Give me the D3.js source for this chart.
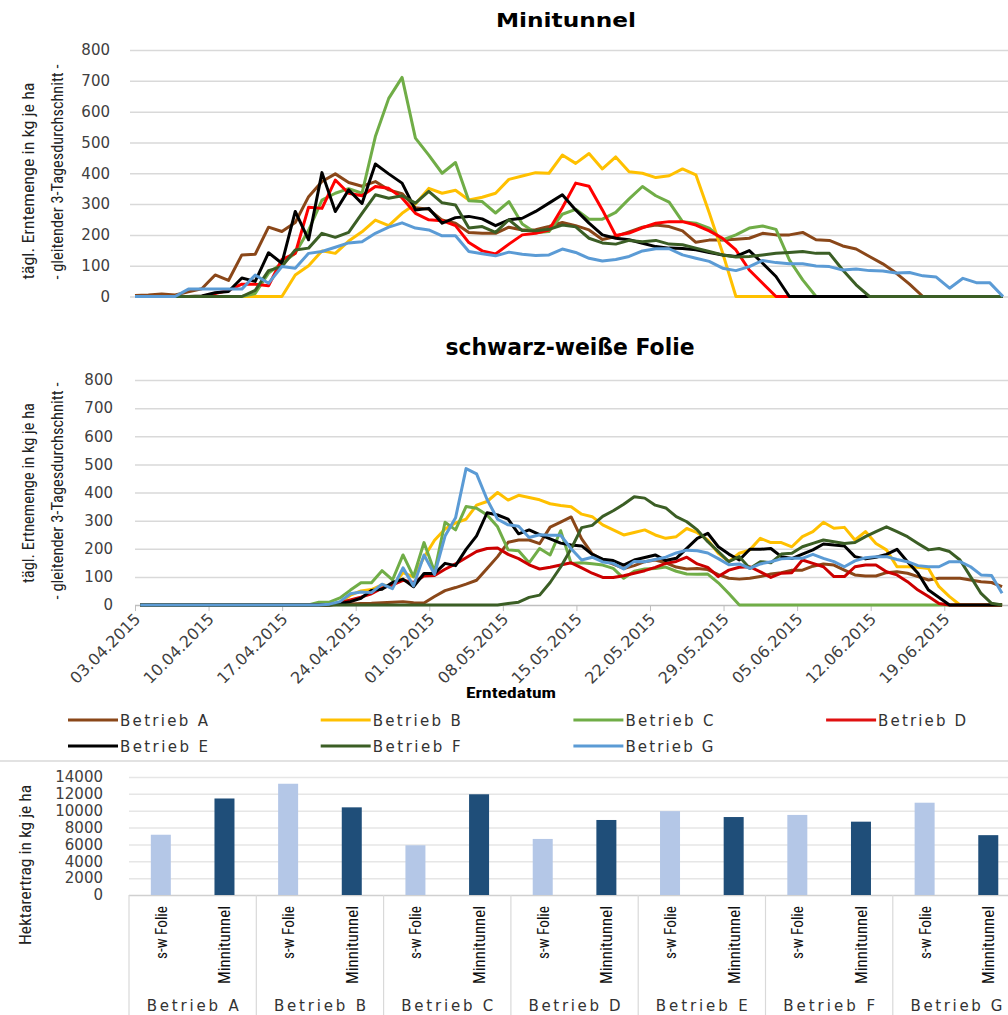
<!DOCTYPE html>
<html><head><meta charset="utf-8">
<script src="https://cdn.jsdelivr.net/npm/d3@7"></script>
<style>body{margin:0;background:#fff}svg{display:block}</style>
</head><body>
<svg id="c" width="1008" height="1015"></svg>
<script>
// ---------------- DATA ----------------
const betriebe = ["Betrieb A","Betrieb B","Betrieb C","Betrieb D","Betrieb E","Betrieb F","Betrieb G"];
const lineColors = ["#8A4719","#FFC000","#70AD47","#FF0000","#000000","#3B5E25","#5B9BD5"];
const lineColorsFolie = ["#8A4719","#FFC000","#70AD47","#CC0000","#000000","#3B5E25","#5B9BD5"];

// Minitunnel (66 harvest points)
const tunnelA = [3,5,8,5,15,25,70,52,135,137,225,211,240,324,373,398,370,358,373,346,334,288,283,248,238,208,205,205,225,216,217,227,240,230,216,185,195,210,225,232,227,213,176,183,183,186,189,205,200,200,208,184,182,164,154,130,106,76,40,0,0,0,0,0,0,0];
const tunnelB = [0,0,0,0,0,0,0,0,0,0,0,0,70,100,148,140,180,210,248,230,270,300,351,335,345,313,322,335,380,391,402,400,459,432,464,414,453,405,400,386,392,414,395,272,142,0,0,0,0,0,0,0,0,0,0,0,0,0,0,0,0,0,0,0,0,0];
const tunnelC = [0,0,0,0,0,0,0,0,0,10,76,108,140,215,313,335,350,335,519,643,711,514,459,400,435,311,308,271,308,235,207,211,267,283,251,251,273,317,357,327,306,243,238,222,184,200,222,229,218,119,54,0,0,0,0,0,0,0,0,0,0,0,0,0,0,0];
const tunnelD = [0,0,0,0,0,0,10,20,40,40,35,120,140,290,286,378,335,327,357,351,320,270,249,246,230,175,148,138,170,200,205,216,288,368,358,281,198,206,223,238,243,243,232,213,189,151,86,43,0,0,0,0,0,0,0,0,0,0,0,0,0,0,0,0,0,0];
const tunnelE = [0,0,0,0,0,2,12,16,60,49,142,108,276,184,402,276,346,302,430,398,368,281,286,238,256,260,252,230,249,254,276,303,330,281,238,200,189,184,173,162,157,156,152,143,135,130,149,108,65,0,0,0,0,0,0,0,0,0,0,0,0,0,0,0,0,0];
const tunnelF = [0,0,0,0,0,0,0,0,0,20,84,97,151,157,205,192,208,270,330,319,327,303,341,304,297,222,227,208,249,214,213,218,232,226,189,174,170,182,178,182,170,168,157,146,135,128,130,135,140,143,146,140,140,86,38,0,0,0,0,0,0,0,0,0,0,0];
const tunnelG = [0,0,0,0,24,24,24,24,24,70,43,97,92,140,146,160,174,178,205,225,239,222,216,197,197,146,139,132,144,137,133,135,154,143,124,115,120,130,148,155,155,135,124,114,92,84,97,117,110,106,106,99,97,86,89,84,83,76,78,67,63,27,59,45,45,0];

// schwarz-weiße Folie (daily, 03.04.2015 - 24.06.2015)
const folieA = [0,0,0,0,0,0,0,0,0,0,0,0,0,0,0,0,0,0,0,3,4,5,6,8,10,12,8,7,30,51,62,74,88,130,172,223,231,231,218,277,295,313,235,182,160,145,130,140,154,160,150,135,128,130,126,108,95,92,95,101,110,115,124,124,138,146,142,124,107,103,103,115,118,113,101,89,95,95,95,89,83,80,65];
const folieB = [0,0,0,0,0,0,0,0,0,0,0,0,0,0,0,0,0,0,2,10,35,50,55,72,65,115,100,170,230,270,292,305,355,368,400,373,390,382,374,360,354,349,323,314,285,267,249,258,267,249,237,243,272,257,231,184,154,184,196,237,222,222,207,243,261,294,273,276,231,261,219,196,136,136,134,130,65,30,0,0,0,0,0];
const folieC = [0,0,0,0,0,0,0,0,0,0,0,0,0,0,0,0,0,10,10,25,53,79,79,122,89,178,101,222,118,294,267,350,344,320,278,196,193,150,201,178,264,148,150,147,142,130,95,120,128,130,135,120,110,109,110,79,41,0,0,0,0,0,0,0,0,0,0,0,0,0,0,0,0,0,0,0,0,0,0,0,0,0,0];
const folieD = [0,0,0,0,0,0,0,0,0,0,0,0,0,0,0,0,0,0,2,8,18,28,40,60,72,88,80,103,105,127,146,168,190,201,203,180,165,143,128,134,142,150,132,113,98,98,104,113,122,134,148,155,170,146,134,101,124,134,136,118,98,113,115,160,148,136,101,101,136,142,142,118,107,83,53,30,5,0,0,0,0,0,0];
const folieE = [0,0,0,0,0,0,0,0,0,0,0,0,0,0,0,0,0,0,0,5,12,24,52,56,80,92,65,112,112,148,140,198,246,328,320,305,253,267,250,235,220,213,210,180,163,158,142,160,169,178,158,166,201,237,255,207,181,160,198,198,201,172,165,181,196,217,213,210,172,164,170,180,198,154,113,53,27,0,0,0,0,0,0];
const folieF = [0,0,0,0,0,0,0,0,0,0,0,0,0,0,0,0,0,0,0,0,0,0,0,0,0,0,0,0,0,0,0,0,0,0,0,5,10,27,35,80,135,200,275,283,315,335,358,385,380,355,345,314,296,267,225,190,154,172,130,154,150,181,184,207,219,231,225,219,222,243,261,278,261,243,219,196,201,190,160,101,41,6,0];
const folieG = [0,0,0,0,0,0,0,0,0,0,0,0,0,0,0,0,0,0,3,12,40,46,44,74,58,132,68,178,109,245,310,485,466,375,305,285,280,240,250,248,248,200,160,170,153,148,128,155,154,162,170,185,195,193,185,165,143,146,130,146,154,164,166,166,180,166,154,136,157,168,172,172,162,154,140,136,136,154,154,136,107,105,42];

const dateLabels = ["03.04.2015","10.04.2015","17.04.2015","24.04.2015","01.05.2015","08.05.2015","15.05.2015","22.05.2015","29.05.2015","05.06.2015","12.06.2015","19.06.2015"];
const lineTicks = [0,100,200,300,400,500,600,700,800];

// Hektarertrag
const barCats = ["s-w Folie","Minnitunnel"];
const swFolie = [7150,13200,5900,6650,9950,9500,10950];
const minitunnel = [11450,10400,11950,8900,9250,8700,7100];
const barTicks = [0,2000,4000,6000,8000,10000,12000,14000];

// ---------------- DRAW ----------------
const FONT = "'DejaVu Sans', Verdana, sans-serif";
const NARROW = "'Liberation Sans Narrow','Roboto Condensed',Roboto,'Open Sans',sans-serif";
const svg = d3.select("#c");
svg.append("rect").attr("width",1008).attr("height",1015).attr("fill","#fff");

function styleAxis(g, labelColor, size){
  g.select(".domain").remove();
  g.selectAll(".tick line").attr("stroke","#d9d9d9").attr("stroke-width",1.5);
  g.selectAll(".tick text").attr("fill",labelColor).attr("font-family",FONT).attr("font-size",size);
}
function yTitle(txt, bx, cy, len, size){
  svg.append("text").attr("transform",`translate(${bx},${cy}) rotate(-90)`)
    .attr("text-anchor","middle").attr("font-family",NARROW).attr("font-size",size)
    .attr("fill","#222").attr("textLength",len).attr("lengthAdjust","spacingAndGlyphs").text(txt);
}

// ---- Top chart: Minitunnel ----
const xTop = d3.scaleLinear().domain([0,65]).range([135,1003]);
const yTop = d3.scaleLinear().domain([0,800]).range([296.5,50]);
svg.append("text").attr("x",566).attr("y",27).attr("text-anchor","middle")
  .attr("font-family",FONT).attr("font-weight","bold").attr("font-size",19)
  .attr("textLength",140).attr("lengthAdjust","spacingAndGlyphs").text("Minitunnel");
const gTopAxis = svg.append("g").attr("transform","translate(130,0)")
  .call(d3.axisLeft(yTop).tickValues(lineTicks).tickSize(-(1008-130)).tickPadding(20));
styleAxis(gTopAxis,"#404040",15);
yTitle("tägl. Erntemenge in kg je ha",34,181,197,17);
yTitle("- gleitender 3-Tagesdurchschnitt -",63,172,215,17);
const topSeries = [tunnelA,tunnelB,tunnelC,tunnelD,tunnelE,tunnelF,tunnelG];
const lineTop = d3.line().x((d,i)=>xTop(i)).y(d=>yTop(d));
svg.append("g").selectAll("path").data(topSeries).join("path")
  .attr("d",lineTop).attr("fill","none").attr("stroke",(d,i)=>lineColors[i])
  .attr("stroke-width",3).attr("stroke-linejoin","round");

// ---- Middle chart: schwarz-weiße Folie ----
const dayW = 10.51;
const xMid = d3.scaleLinear().domain([0,83]).range([135,135+83*dayW]);
const yMid = d3.scaleLinear().domain([0,800]).range([605,380]);
svg.append("text").attr("x",570).attr("y",355).attr("text-anchor","middle")
  .attr("font-family",FONT).attr("font-weight","bold").attr("font-size",23)
  .attr("textLength",249).attr("lengthAdjust","spacingAndGlyphs").text("schwarz-weiße Folie");
const gMidAxis = svg.append("g").attr("transform","translate(135,0)")
  .call(d3.axisLeft(yMid).tickValues(lineTicks).tickSize(-(1008-135)).tickPadding(22));
styleAxis(gMidAxis,"#404040",15);
gMidAxis.selectAll(".tick line").filter(d=>d===0).attr("stroke","#bfbfbf");
yTitle("tägl. Ertnemenge in kg je ha",34,493,180,17);
yTitle("- gleitender 3-Tagesdurchschnitt -",63,491,217,17);
const gX = svg.append("g").attr("transform","translate(0,605)")
  .call(d3.axisBottom(xMid).tickValues(d3.range(0,78,7)).tickSize(6).tickFormat((d,i)=>dateLabels[i]));
gX.select(".domain").remove();
gX.selectAll(".tick line").attr("stroke","#bfbfbf");
gX.selectAll(".tick text").attr("font-family",FONT).attr("font-size",16).attr("fill","#404040")
  .attr("text-anchor","end").attr("x",0).attr("y",0).attr("dy",0)
  .attr("transform","translate(6,15) rotate(-45)");
const folieSeries = [folieA,folieB,folieC,folieD,folieE,folieF,folieG];
const lineMid = d3.line().x((d,i)=>xMid(i+0.5)).y(d=>yMid(d));
svg.append("g").selectAll("path").data(folieSeries).join("path")
  .attr("d",lineMid).attr("fill","none").attr("stroke",(d,i)=>lineColorsFolie[i])
  .attr("stroke-width",3).attr("stroke-linejoin","round");
svg.append("text").attr("x",511).attr("y",698).attr("text-anchor","middle")
  .attr("font-family",NARROW).attr("font-weight","bold").attr("font-size",15)
  .attr("textLength",90).attr("lengthAdjust","spacingAndGlyphs").text("Erntedatum");

// ---- Legend ----
const leg = svg.append("g").selectAll("g").data(betriebe).join("g")
  .attr("transform",(d,i)=>`translate(${68+(i%4)*252.7},${720+Math.floor(i/4)*26})`);
leg.append("line").attr("x1",0).attr("x2",50).attr("y1",0).attr("y2",0)
  .attr("stroke",(d,i)=>i===3?"#E01010":lineColors[i]).attr("stroke-width",3);
leg.append("text").attr("x",52).attr("y",6).attr("font-family",FONT).attr("font-size",15)
  .attr("fill","#333").attr("textLength",88).attr("lengthAdjust","spacing").text(d=>d);

// ---- Bar chart ----
svg.append("line").attr("x1",0).attr("x2",1008).attr("y1",761).attr("y2",761)
  .attr("stroke","#d9d9d9").attr("stroke-width",1.5);
const groupW = 127.3;
const xG = d3.scaleBand().domain(betriebe).range([129,129+7*groupW]);
const xS = d3.scaleBand().domain(barCats).range([0,groupW]);
const yBar = d3.scaleLinear().domain([0,14000]).range([895,777]);
const gBarAxis = svg.append("g").attr("transform","translate(129,0)")
  .call(d3.axisLeft(yBar).tickValues(barTicks).tickFormat(d3.format("d")).tickSize(-(1008-129)).tickPadding(26));
styleAxis(gBarAxis,"#404040",15);
gBarAxis.selectAll(".tick line").attr("stroke","#e6e6e6");
gBarAxis.selectAll(".tick line").filter(d=>d===0).attr("stroke","#d0d0d0");
yTitle("Hektarertrag in kg je ha",31,865,160,16);
const barW = 20;
const groups = svg.append("g").selectAll("g").data(betriebe).join("g")
  .attr("transform",d=>`translate(${xG(d)},0)`);
groups.each(function(b,gi){
  const g = d3.select(this);
  const vals = [swFolie[gi], minitunnel[gi]];
  barCats.forEach((c,ci)=>{
    const cx = xS(c)+xS.bandwidth()/2;
    g.append("rect").attr("x",cx-barW/2).attr("width",barW)
      .attr("y",yBar(vals[ci])).attr("height",yBar(0)-yBar(vals[ci]))
      .attr("fill",ci===0?"#B4C7E7":"#1F4E79");
    g.append("text").attr("transform",`translate(${cx+6},906) rotate(-90)`)
      .attr("text-anchor","end").attr("font-family",NARROW).attr("font-size",16)
      .attr("fill","#111").attr("textLength",ci===0?53:78).attr("lengthAdjust","spacingAndGlyphs").text(c);
  });
  g.append("line").attr("x1",0).attr("x2",0).attr("y1",895).attr("y2",1015)
    .attr("stroke","#d9d9d9").attr("stroke-width",1.2);
  g.append("text").attr("x",groupW/2).attr("y",1011).attr("text-anchor","middle")
    .attr("font-family",FONT).attr("font-size",15).attr("fill","#333")
    .attr("textLength",92).attr("lengthAdjust","spacing").text(b);
});
</script>
</body></html>
